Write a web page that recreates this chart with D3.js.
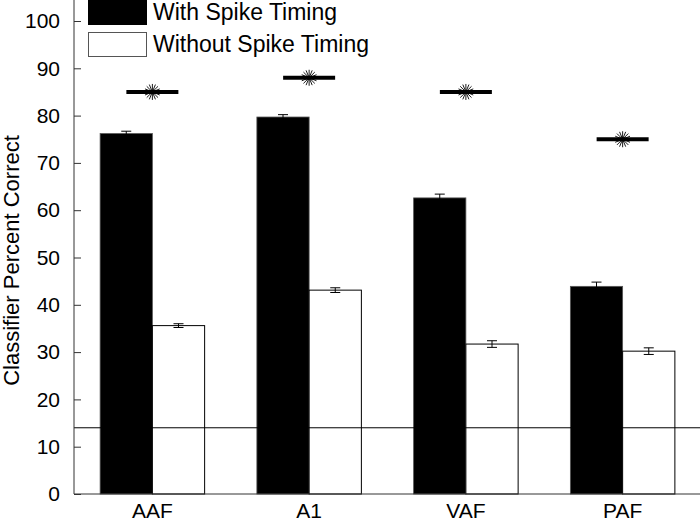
<!DOCTYPE html>
<html><head><meta charset="utf-8">
<script src="https://cdn.jsdelivr.net/npm/d3@7/dist/d3.min.js"></script>
<style>body{margin:0;background:#fff}svg{display:block;font-family:"Liberation Sans",Arial,sans-serif}</style>
</head><body><svg id="c" width="700" height="521"></svg>
<script>
const categories = ["AAF", "A1", "VAF", "PAF"];
const withTiming = [76.2, 79.7, 62.6, 43.9];
const withErr = [0.5, 0.5, 0.8, 0.9];
const withoutTiming = [35.6, 43.1, 31.7, 30.2];
const withoutErr = [0.4, 0.5, 0.7, 0.7];
const sigLevels = [85, 88, 85, 75];
const chanceLevel = 14;
const yTicks = [0, 10, 20, 30, 40, 50, 60, 70, 80, 90, 100];
const seriesNames = ["With Spike Timing", "Without Spike Timing"];

const svg = d3.select("#c");
const x = d3.scaleLinear().domain([0.5, 4.5]).range([74, 701]);
const y = d3.scaleLinear().domain([0, 100]).range([494, 21]);
const bw = 1/3;

// bars
const g = svg.append("g");
categories.forEach((c, i) => {
  const xi = i + 1;
  g.append("rect").attr("x", x(xi - bw)).attr("width", x(xi) - x(xi - bw))
    .attr("y", y(withTiming[i])).attr("height", y(0) - y(withTiming[i]))
    .attr("fill", "#000").attr("stroke", "#555").attr("stroke-width", 0.8);
  g.append("rect").attr("x", x(xi)).attr("width", x(xi + bw) - x(xi))
    .attr("y", y(withoutTiming[i])).attr("height", y(0) - y(withoutTiming[i]))
    .attr("fill", "#fff").attr("stroke", "#000").attr("stroke-width", 1);
});

// error bars
function errbar(cx, v, e, col) {
  const cw = 5;
  g.append("line").attr("x1", cx).attr("x2", cx).attr("y1", y(v - e)).attr("y2", y(v + e)).attr("stroke", col).attr("stroke-width", 1);
  [v - e, v + e].forEach(t => g.append("line").attr("x1", cx - cw).attr("x2", cx + cw).attr("y1", y(t)).attr("y2", y(t)).attr("stroke", col).attr("stroke-width", 1));
}
categories.forEach((c, i) => {
  const xi = i + 1;
  errbar(x(xi - bw/2), withTiming[i], withErr[i], "#000");
  errbar(x(xi + bw/2), withoutTiming[i], withoutErr[i], "#000");
});

// chance line
svg.append("line").attr("x1", x(0.5)).attr("x2", 700).attr("y1", y(chanceLevel)).attr("y2", y(chanceLevel)).attr("stroke", "#000").attr("stroke-width", 1);

// significance markers
categories.forEach((c, i) => {
  const xi = i + 1;
  svg.append("line").attr("x1", x(xi) - 26).attr("x2", x(xi) + 26)
    .attr("y1", y(sigLevels[i])).attr("y2", y(sigLevels[i])).attr("stroke", "#000").attr("stroke-width", 4);
  const cx = x(xi), cy = y(sigLevels[i]);
  for (let k = 0; k < 8; k++) {
    const a = k * Math.PI / 8, r = 8;
    svg.append("line").attr("x1", cx - r*Math.cos(a)).attr("x2", cx + r*Math.cos(a))
      .attr("y1", cy - r*Math.sin(a)).attr("y2", cy + r*Math.sin(a))
      .attr("stroke", "#000").attr("stroke-width", 0.9);
  }
});

// axes
const yAxis = d3.axisLeft(y).tickValues(yTicks).tickSizeInner(-7).tickSizeOuter(0).tickPadding(14);
const ya = svg.append("g").attr("transform", "translate(74,0)").call(yAxis);
ya.select(".domain").remove();
ya.selectAll("text").attr("font-size", 21).attr("fill", "#000").attr("font-family", "Liberation Sans, Arial, sans-serif");
ya.selectAll("line").attr("stroke", "#333");
svg.append("line").attr("x1", 74).attr("x2", 74).attr("y1", 0).attr("y2", y(0)).attr("stroke", "#333").attr("stroke-width", 1);
svg.append("line").attr("x1", 74).attr("x2", 700).attr("y1", y(0)).attr("y2", y(0)).attr("stroke", "#333").attr("stroke-width", 1);

// x labels
categories.forEach((c, i) => {
  svg.append("text").attr("x", x(i + 1)).attr("y", 518).attr("text-anchor", "middle")
    .attr("font-size", 21).attr("fill", "#000").text(c);
});

// y title
svg.append("text").attr("transform", `translate(19,${(y(0)+y(100))/2 + 3}) rotate(-90)`)
  .attr("text-anchor", "middle").attr("font-size", 22).attr("fill", "#000").text("Classifier Percent Correct");

// legend
const lg = svg.append("g");
lg.append("rect").attr("x", 88).attr("y", -2).attr("width", 59).attr("height", 27).attr("fill", "#000");
lg.append("rect").attr("x", 88.5).attr("y", 32.5).attr("width", 58).attr("height", 24).attr("fill", "#fff").attr("stroke", "#555");
lg.append("text").attr("x", 153).attr("y", 20).attr("font-size", 23).attr("fill", "#000").text(seriesNames[0]);
lg.append("text").attr("x", 153).attr("y", 52).attr("font-size", 23).attr("fill", "#000").text(seriesNames[1]);
</script></body></html>
